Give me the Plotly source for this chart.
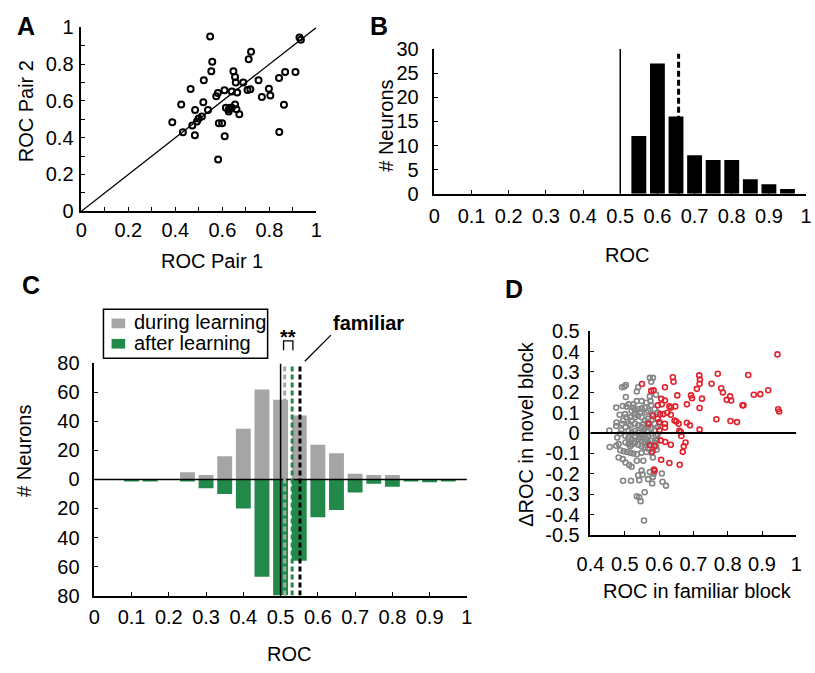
import plotly.graph_objects as go

W, H = 815, 673
FONT = "Liberation Sans, Arial, Helvetica, sans-serif"
GRAY = "#a5a5a5"
GREEN = "#23894a"
DGRAY = "#858585"
RED = "#e2222d"

# ---------------- Panel A: ROC pair 1 vs pair 2 ----------------
a_pair1 = [0.548, 0.557, 0.553, 0.521, 0.465, 0.425, 0.387, 0.432, 0.483, 0.484,
           0.472, 0.492, 0.499, 0.513, 0.519, 0.539, 0.574, 0.581, 0.609, 0.585,
           0.599, 0.610, 0.582, 0.615, 0.627, 0.633, 0.640, 0.627, 0.654, 0.660,
           0.672, 0.640, 0.663, 0.647, 0.654, 0.657, 0.689, 0.707, 0.719, 0.712,
           0.722, 0.754, 0.768, 0.798, 0.804, 0.841, 0.867, 0.911, 0.862, 0.842,
           0.928, 0.934]
a_pair2 = [0.951, 0.813, 0.762, 0.713, 0.665, 0.581, 0.484, 0.430, 0.414, 0.551,
           0.467, 0.488, 0.504, 0.516, 0.593, 0.551, 0.625, 0.643, 0.658, 0.479,
           0.479, 0.408, 0.282, 0.563, 0.555, 0.563, 0.563, 0.542, 0.581, 0.555,
           0.528, 0.651, 0.646, 0.761, 0.731, 0.701, 0.701, 0.660, 0.664, 0.827,
           0.868, 0.713, 0.621, 0.667, 0.630, 0.725, 0.757, 0.757, 0.579, 0.431,
           0.945, 0.933]

# ---------------- Panel B: histogram ----------------
b_roc = [0.55, 0.60, 0.65, 0.70, 0.75, 0.80, 0.85, 0.90, 0.95]
b_count = [12, 27, 16, 8, 7, 7, 3, 2, 1]
b_mean = 0.657
b_chance = 0.5

# ---------------- Panel C: mirrored histograms ----------------
c_roc = [0.10, 0.15, 0.20, 0.25, 0.30, 0.35, 0.40, 0.45, 0.50, 0.55,
         0.60, 0.65, 0.70, 0.75, 0.80, 0.85, 0.90, 0.95]
c_during = [0, 0, 0, 5, 3, 16, 35, 62, 55, 44, 24, 18, 4, 3, 3, 0, 0, 0]
c_after = [1, 1, 0, 1, 6, 10, 20, 67, 80, 56, 26, 21, 9, 3, 5, 1, 2, 1]
c_mean_during = 0.511
c_mean_after = 0.531
c_mean_familiar = 0.552
c_yticks = [-80, -60, -40, -20, 0, 20, 40, 60, 80]

# ---------------- Panel D: scatter ----------------
d_gray_points = [
    (0.455, 0.013), (0.456, -0.068), (0.476, 0.052), (0.475, 0.035), (0.475, 0.125),
    (0.485, 0.090), (0.494, 0.133), (0.505, 0.130), (0.511, 0.141), (0.503, 0.177),
    (0.492, 0.225), (0.503, 0.236), (0.499, 0.228), (0.539, 0.225), (0.535, 0.204),
    (0.573, 0.271), (0.582, 0.271), (0.577, 0.252), (0.591, 0.188), (0.573, 0.180),
    (0.575, 0.157), (0.563, 0.149), (0.549, 0.157), (0.535, 0.157), (0.525, 0.141),
    (0.525, 0.125), (0.520, 0.109), (0.530, 0.112), (0.539, 0.117), (0.549, 0.122),
    (0.558, 0.125), (0.568, 0.109), (0.580, 0.093), (0.596, 0.101), (0.587, 0.117),
    (0.516, 0.078), (0.505, 0.078), (0.495, 0.062), (0.492, 0.046), (0.502, 0.030),
    (0.511, 0.046), (0.520, 0.062), (0.530, 0.078), (0.539, 0.085), (0.549, 0.078),
    (0.558, 0.062), (0.568, 0.070), (0.577, 0.062), (0.587, 0.046), (0.596, 0.030),
    (0.530, 0.046), (0.539, 0.038), (0.549, 0.030), (0.558, 0.022), (0.568, 0.030),
    (0.577, 0.022), (0.587, 0.014), (0.511, 0.011), (0.520, 0.003), (0.530, 0.011),
    (0.539, 0.003), (0.549, -0.006), (0.558, -0.006), (0.568, -0.014), (0.577, -0.002),
    (0.591, -0.013), (0.502, -0.014), (0.511, -0.022), (0.520, -0.030), (0.530, -0.022),
    (0.539, -0.030), (0.549, -0.038), (0.558, -0.041), (0.568, -0.046), (0.577, -0.038),
    (0.587, -0.046), (0.502, -0.046), (0.511, -0.054), (0.520, -0.057), (0.530, -0.049),
    (0.539, -0.057), (0.549, -0.065), (0.558, -0.070), (0.568, -0.076), (0.582, -0.078),
    (0.593, -0.081), (0.487, -0.084), (0.497, -0.089), (0.506, -0.093), (0.516, -0.097),
    (0.525, -0.100), (0.535, -0.104), (0.549, -0.097), (0.563, -0.093), (0.577, -0.097),
    (0.482, -0.120), (0.494, -0.128), (0.502, -0.144), (0.513, -0.157), (0.520, -0.165),
    (0.535, -0.136), (0.554, -0.136), (0.495, -0.234), (0.518, -0.234), (0.542, -0.231),
    (0.549, -0.184), (0.552, -0.203), (0.568, -0.226), (0.580, -0.247), (0.582, -0.215),
    (0.584, -0.199), (0.608, -0.198), (0.610, -0.239), (0.620, -0.258), (0.535, -0.310),
    (0.542, -0.315), (0.546, -0.334), (0.558, -0.290), (0.556, -0.429), (0.573, -0.191),
    (0.539, -0.207), (0.594, -0.036), (0.591, -0.065), (0.582, -0.120), (0.596, -0.006),
    (0.478, -0.022), (0.475, -0.062), (0.482, -0.054), (0.490, 0.014), (0.516, 0.038),
    (0.554, 0.046), (0.572, 0.046), (0.563, 0.101), (0.544, 0.101), (0.530, 0.093),
    (0.554, 0.011), (0.544, -0.022), (0.563, -0.030), (0.525, -0.046), (0.516, -0.065),
    (0.572, -0.057), (0.601, 0.046), (0.501, 0.093), (0.487, -0.002), (0.577, 0.136),
]
d_red_points = [
    (0.945, 0.386), (0.947, 0.117), (0.950, 0.106), (0.860, 0.285), (0.771, 0.291),
    (0.717, 0.283), (0.719, 0.263), (0.718, 0.242), (0.710, 0.217), (0.640, 0.274),
    (0.642, 0.252), (0.753, 0.242), (0.781, 0.220), (0.786, 0.199), (0.725, 0.169),
    (0.718, 0.123), (0.693, 0.185), (0.696, 0.171), (0.797, 0.163), (0.807, 0.180),
    (0.810, 0.160), (0.895, 0.191), (0.876, 0.188), (0.843, 0.136), (0.846, 0.136),
    (0.918, 0.210), (0.767, 0.068), (0.808, 0.059), (0.827, 0.054), (0.718, 0.017),
    (0.653, 0.185), (0.681, 0.141), (0.647, 0.131), (0.617, 0.225), (0.606, 0.168),
    (0.617, 0.160), (0.596, 0.136), (0.630, 0.131), (0.635, 0.125), (0.608, 0.141),
    (0.577, 0.207), (0.584, 0.210), (0.550, 0.241), (0.582, 0.085), (0.603, 0.093),
    (0.612, 0.093), (0.624, 0.100), (0.634, 0.090), (0.645, 0.062), (0.650, 0.057),
    (0.657, 0.046), (0.596, 0.070), (0.601, 0.054), (0.617, 0.046), (0.568, 0.046),
    (0.681, 0.051), (0.690, 0.038), (0.601, 0.014), (0.659, 0.011), (0.663, 0.005),
    (0.617, 0.027), (0.665, -0.014), (0.677, -0.046), (0.672, -0.065), (0.669, -0.092),
    (0.604, -0.036), (0.634, -0.057), (0.573, -0.060), (0.587, -0.062), (0.580, -0.092),
    (0.606, -0.131), (0.630, -0.147), (0.660, -0.155), (0.585, -0.179), (0.587, -0.185),
    (0.618, -0.044),
]
d_yticks = [0.5, 0.4, 0.3, 0.2, 0.1, 0, -0.1, -0.2, -0.3, -0.4, -0.5]
d_yticktext = ["0.5", "0.4", "0.3", "0.2", "0.1", "0", "-0.1", "-0.2", "-0.3", "-0.4", "-0.5"]

# ---------------- layout geometry (pixels) ----------------
A_X, A_Y = (69, 310), (207, 17)
B_X, B_Y = (431, 812), (189, 39.3)
C_X, C_Y = (82.3, 464.3), (604.3, 364.3)
D_X, D_Y = (591, 802), (541.7, 331)


def dom_x(p):
    return [p[0] / W, p[1] / W]


def dom_y(p):
    return [1 - p[0] / H, 1 - p[1] / H]


def P(x, y):
    return x / W, 1 - y / H


def c_paper(xd, yd):
    px = C_X[0] + xd * (C_X[1] - C_X[0])
    py = C_Y[0] - (yd + 80) / 160 * (C_Y[0] - C_Y[1])
    return P(px, py)


fig = go.Figure()

# A
fig.add_trace(go.Scatter(x=a_pair1, y=a_pair2, mode="markers", xaxis="x", yaxis="y",
                         marker=dict(symbol="circle-open", size=6, color="black",
                                     line=dict(width=2, color="black")),
                         cliponaxis=False, showlegend=False))
# B
fig.add_trace(go.Bar(x=b_roc, y=b_count, width=0.04, xaxis="x2", yaxis="y2",
                     marker=dict(color="black", line=dict(width=0)), showlegend=False))
# C
fig.add_trace(go.Bar(x=c_roc, y=c_during, width=0.04, xaxis="x3", yaxis="y3",
                     marker=dict(color=GRAY, line=dict(width=0)), name="during learning",
                     showlegend=False))
fig.add_trace(go.Bar(x=c_roc, y=[-v for v in c_after], width=0.04, xaxis="x3", yaxis="y3",
                     marker=dict(color=GREEN, line=dict(width=0)), name="after learning",
                     showlegend=False))
# D
fig.add_trace(go.Scatter(x=[p[0] for p in d_gray_points], y=[p[1] for p in d_gray_points],
                         mode="markers", xaxis="x4", yaxis="y4",
                         marker=dict(symbol="circle-open", size=5, color=DGRAY,
                                     line=dict(width=1.6, color=DGRAY)),
                         showlegend=False))
fig.add_trace(go.Scatter(x=[p[0] for p in d_red_points], y=[p[1] for p in d_red_points],
                         mode="markers", xaxis="x4", yaxis="y4",
                         marker=dict(symbol="circle-open", size=5, color=RED,
                                     line=dict(width=1.6, color=RED)),
                         showlegend=False))

axis_common = dict(showgrid=False, zeroline=False, showline=True, linecolor="black",
                   linewidth=1.5, ticks="inside", ticklen=4, tickwidth=1.2,
                   tickcolor="black", tickfont=dict(family=FONT, size=20, color="black"))

fig.update_layout(
    width=W, height=H, margin=dict(l=0, r=0, t=0, b=0), autosize=False,
    paper_bgcolor="white", plot_bgcolor="white", barmode="overlay",
    font=dict(family=FONT, size=20, color="black"),
    xaxis=dict(axis_common, domain=dom_x(A_X), anchor="y", range=[0, 1],
               tickvals=[0, 0.2, 0.4, 0.6, 0.8, 1], ticklabelstandoff=0,
               minor=dict(dtick=0.1, ticks="inside", ticklen=4, tickcolor="black")),
    yaxis=dict(axis_common, domain=dom_y(A_Y), anchor="x", range=[0, 1],
               tickvals=[0, 0.2, 0.4, 0.6, 0.8, 1], ticklabelstandoff=2,
               minor=dict(dtick=0.1, ticks="inside", ticklen=4, tickcolor="black")),
    xaxis2=dict(axis_common, domain=dom_x(B_X), anchor="y2", range=[0, 1], dtick=0.1,
                tick0=0, ticklabelstandoff=3, ticklabeloverflow="allow"),
    yaxis2=dict(axis_common, domain=dom_y(B_Y), anchor="x2", range=[0, 30], dtick=5,
                ticklabelstandoff=10),
    xaxis3=dict(axis_common, domain=dom_x(C_X), anchor="y3", range=[0, 1], dtick=0.1,
                tick0=0, ticklabelstandoff=3),
    yaxis3=dict(axis_common, domain=dom_y(C_Y), anchor="x3", range=[-80, 80],
                tickvals=c_yticks, ticktext=[str(abs(v)) for v in c_yticks],
                ticklabelstandoff=9),
    xaxis4=dict(axis_common, domain=dom_x(D_X), anchor="y4", range=[0.4, 1], dtick=0.1,
                tick0=0.4, ticklabelstandoff=10),
    yaxis4=dict(axis_common, domain=dom_y(D_Y), anchor="x4", range=[-0.5, 0.5],
                tickvals=d_yticks, ticktext=d_yticktext, ticklabelstandoff=5),
)

shapes = []
# A diagonal
shapes.append(dict(type="line", xref="x", yref="y", x0=0, y0=0, x1=1, y1=1,
                   line=dict(color="black", width=1.3)))
# B lines
shapes.append(dict(type="line", xref="x2", yref="y2", x0=b_chance, x1=b_chance, y0=0, y1=30,
                   line=dict(color="black", width=1.5)))
shapes.append(dict(type="line", xref="x2", yref="y2", x0=b_mean, x1=b_mean, y0=0, y1=29,
                   line=dict(color="black", width=3, dash="6px,3px")))
# C lines
shapes.append(dict(type="line", xref="x3", yref="y3", x0=0, x1=1, y0=0, y1=0,
                   line=dict(color="black", width=1.5)))
shapes.append(dict(type="line", xref="x3", yref="y3", x0=0.5, x1=0.5, y0=-80, y1=80,
                   line=dict(color="black", width=1.5)))
for xm, col in [(c_mean_during, "#a8a8a8"), (c_mean_after, GREEN), (c_mean_familiar, "black")]:
    shapes.append(dict(type="line", xref="x3", yref="y3", x0=xm, x1=xm, y0=-80, y1=80,
                       line=dict(color=col, width=3, dash="5px,3px")))
# C significance bracket
bx0, by0 = c_paper(c_mean_during - 0.003, 89)
bx1, by1 = c_paper(c_mean_after + 0.002, 95.5)
shapes.append(dict(type="path", xref="paper", yref="paper",
                   path=f"M {bx0},{by0} L {bx0},{by1} L {bx1},{by1} L {bx1},{by0}",
                   line=dict(color="black", width=1.3)))
# C familiar pointer line
fx0, fy0 = c_paper(c_mean_familiar + 0.013, 81.5)
fx1, fy1 = c_paper(c_mean_familiar + 0.083, 99.5)
shapes.append(dict(type="line", xref="paper", yref="paper", x0=fx0, y0=fy0, x1=fx1, y1=fy1,
                   line=dict(color="black", width=1.3)))
# C legend box + swatches
lx0, ly0 = P(91.7, 308.3)
lx1, ly1 = P(260, 359)
shapes.append(dict(type="rect", xref="paper", yref="paper", x0=lx0, y0=ly1, x1=lx1, y1=ly0,
                   line=dict(color="black", width=1.5), fillcolor="white"))
for yc, col in [(323, GRAY), (344, GREEN)]:
    sx0, sy0 = P(100, yc - 5)
    sx1, sy1 = P(114, yc + 5)
    shapes.append(dict(type="rect", xref="paper", yref="paper", x0=sx0, y0=sy1, x1=sx1,
                       y1=sy0, line=dict(width=0), fillcolor=col))
# D zero line
shapes.append(dict(type="line", xref="x4", yref="y4", x0=0.4, x1=1, y0=0, y1=0,
                   line=dict(color="black", width=2)))
fig.update_layout(shapes=shapes)

ann = []


def text(x, y, s, size=20, bold=False, angle=0, xanchor="center"):
    px, py = P(x, y)
    ann.append(dict(x=px, y=py, xref="paper", yref="paper", text=f"<b>{s}</b>" if bold else s,
                    showarrow=False, xanchor=xanchor, yanchor="middle", textangle=angle,
                    font=dict(family=FONT, size=size, color="black")))


# panel letters
text(12, 16, "A", size=25, bold=True)
text(374, 16, "B", size=25, bold=True)
text(17, 283, "C", size=25, bold=True)
text(513, 287, "D", size=25, bold=True)
# axis titles
text(203, 258, "ROC Pair 1")
text(12, 104, "ROC Pair 2", angle=-90)
text(628, 252, "ROC")
text(381, 119, "# Neurons", angle=-90)
text(282, 665, "ROC")
text(10, 455, "# Neurons", angle=-90)
text(701, 600, "ROC in familiar block")
text(525, 437, "ΔROC in novel block", angle=-90)
# legend labels
text(121, 322, "during learning", xanchor="left")
text(121, 343, "after learning", xanchor="left")
# annotations in C
text(281, 337, "**", bold=True)
text(363, 323, "familiar", bold=True)

fig.update_layout(annotations=ann)

fig.write_html(
    "out.html",
    include_plotlyjs=True,
    config={"displayModeBar": False},
    post_script="document.body.style.margin='0';document.body.style.overflow='hidden';",
)
